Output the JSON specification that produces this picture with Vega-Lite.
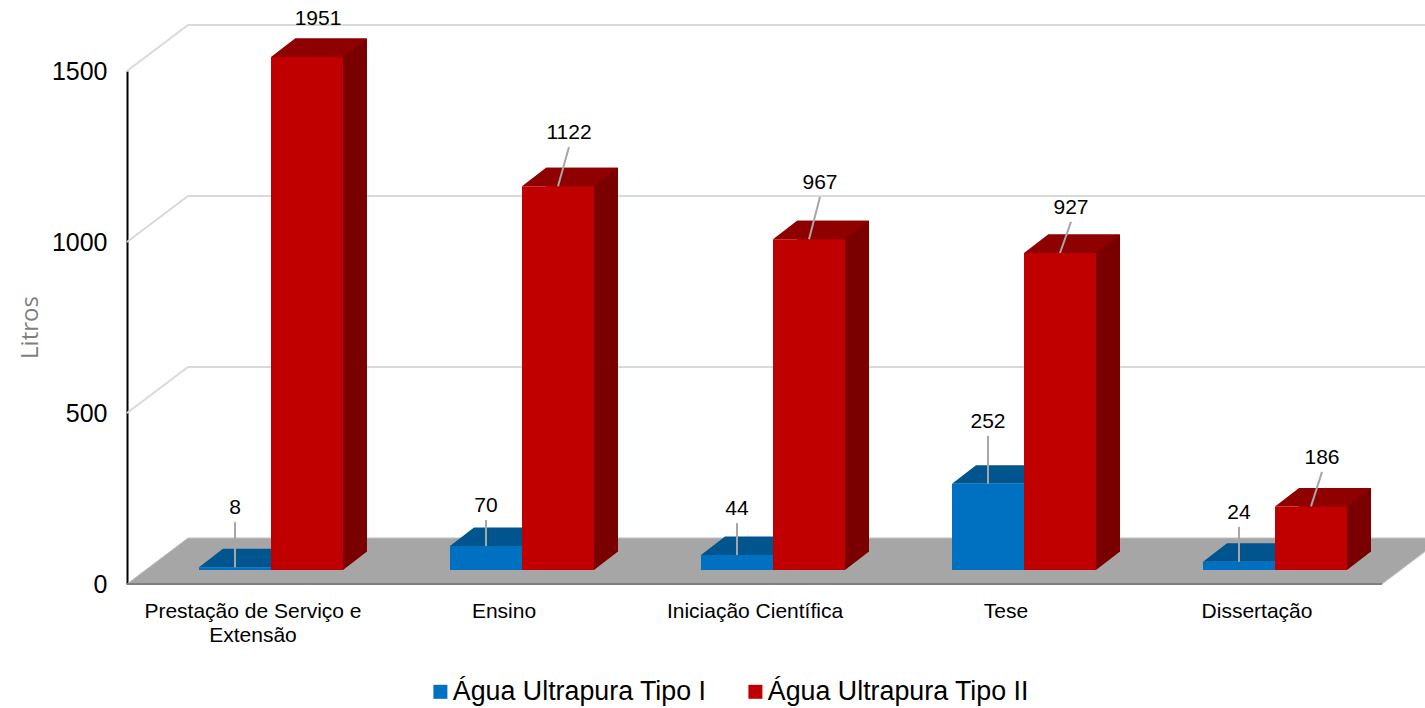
{
"$schema":"https://vega.github.io/schema/vega-lite/v6.json",
"width":1298,"height":513,
"autosize":"none",
"padding":{"left":127,"top":71,"right":0,"bottom":124},
"background":"white",
"config":{"view":{"stroke":null},"font":"Liberation Sans"},
"datasets":{
"barras":[
{"categoria":"Prestação de Serviço e Extensão","serie":"Água Ultrapura Tipo I","valor":8,"topo":8,"rotulo":140},
{"categoria":"Prestação de Serviço e Extensão","serie":"Água Ultrapura Tipo II","valor":1951,"topo":1500,"rotulo":1570},
{"categoria":"Ensino","serie":"Água Ultrapura Tipo I","valor":70,"topo":70,"rotulo":146},
{"categoria":"Ensino","serie":"Água Ultrapura Tipo II","valor":1122,"topo":1122,"rotulo":1237},
{"categoria":"Iniciação Científica","serie":"Água Ultrapura Tipo I","valor":44,"topo":44,"rotulo":137},
{"categoria":"Iniciação Científica","serie":"Água Ultrapura Tipo II","valor":967,"topo":967,"rotulo":1091},
{"categoria":"Tese","serie":"Água Ultrapura Tipo I","valor":252,"topo":252,"rotulo":392},
{"categoria":"Tese","serie":"Água Ultrapura Tipo II","valor":927,"topo":927,"rotulo":1018},
{"categoria":"Dissertação","serie":"Água Ultrapura Tipo I","valor":24,"topo":24,"rotulo":126},
{"categoria":"Dissertação","serie":"Água Ultrapura Tipo II","valor":186,"topo":186,"rotulo":287}
],
"grade":[{"v":0},{"v":500},{"v":1000},{"v":1500}]
},
"data":{"name":"barras"},
"encoding":{
"x":{"field":"categoria","type":"nominal","sort":null,"title":null,
"scale":{"domain":["Prestação de Serviço e Extensão","Ensino","Iniciação Científica","Tese","Dissertação"],"range":[18.5,1273.5],"paddingInner":0.4263,"paddingOuter":0.2131},
"axis":{"domain":false,"ticks":false,"labelAngle":0,"labelFontSize":21,"labelColor":"#000000","labelPadding":16,"labelOffset":-18,"labelLineHeight":24,"labelLimit":400,"labelExpr":"datum.label == 'Prestação de Serviço e Extensão' ? ['Prestação de Serviço e','Extensão'] : datum.label"}},
"xOffset":{"field":"serie","type":"nominal","sort":null,"scale":{"paddingInner":0,"paddingOuter":0}}
},
"layer":[
{"data":{"name":"grade"},"transform":[{"filter":"datum.v == 0"}],
"mark":{"type":"point","shape":"M-649,0 L-588,-46 L667,-46 L606,0 Z","size":4,"filled":true,"fill":"#A6A6A6","opacity":1,"stroke":"#BFBFBF","strokeWidth":1},
"encoding":{"x":null,"xOffset":null,"y":{"field":"v","type":"quantitative"}}},
{"data":{"name":"grade"},"transform":[{"filter":"datum.v == 0"}],
"mark":{"type":"point","shape":"M-649,0 L606,0","size":4,"filled":false,"stroke":"#7F7F7F","strokeWidth":2,"opacity":1},
"encoding":{"x":null,"xOffset":null,"y":{"field":"v","type":"quantitative"}}},
{"data":{"name":"grade"},"transform":[{"filter":"datum.v > 0"}],
"mark":{"type":"point","shape":"M-649,0 L-588,-46 L667,-46","size":4,"filled":false,"stroke":"#D9D9D9","strokeWidth":2,"opacity":1},
"encoding":{"x":null,"xOffset":null,"y":{"field":"v","type":"quantitative"}}},
{"transform":[{"filter":"datum.serie == 'Água Ultrapura Tipo II'"}],
"mark":{"type":"bar","width":72,"xOffset":60,"yOffset":-32.5,"y2Offset":-32.5,"color":"#7A0000"},
"encoding":{"xOffset":null,"y":{"field":"topo","type":"quantitative"},"y2":{"datum":0}}},
{"mark":{"type":"point","shape":"M-36,0 L-12,-18.5 L60,-18.5 L36,0 Z","size":4,"filled":true,"opacity":1,"yOffset":-14},
"encoding":{"y":{"field":"topo","type":"quantitative"},
"color":{"condition":{"test":"datum.serie == 'Água Ultrapura Tipo I'","value":"#00558F"},"value":"#8F0000"}}},
{"transform":[{"filter":"datum.serie == 'Água Ultrapura Tipo II'"}],
"mark":{"type":"point","shape":"M36,0 L60,-18.5 L60,-21 L36,-21 Z","size":4,"filled":true,"opacity":1,"yOffset":-14,"color":"#7A0000"},
"encoding":{"y":{"datum":0}}},
{"mark":{"type":"bar","yOffset":-14,"y2Offset":-14},
"encoding":{"y":{"field":"topo","type":"quantitative","title":"Litros",
"scale":{"domain":[0,1500],"nice":false},
"axis":{"values":[0,500,1000,1500],"format":"d","grid":false,"ticks":false,"domainColor":"#000000","domainWidth":2,"labelFontSize":25,"labelColor":"#000000","labelPadding":20,"titleFont":"Open Sans","titleFontSize":24,"titleFontWeight":"normal","titleColor":"#7F7F7F","titleX":-85,"titleY":256}},
"y2":{"datum":0},
"color":{"field":"serie","type":"nominal","sort":null,
"scale":{"domain":["Água Ultrapura Tipo I","Água Ultrapura Tipo II"],"range":["#0070C0","#C00000"]},
"legend":{"title":null,"orient":"none","legendX":300,"legendY":607,"direction":"horizontal","symbolType":"square","symbolSize":196,"symbolStrokeWidth":0,"labelFontSize":26.8,"labelColor":"#000000","labelOffset":-1,"labelLimit":400,"columnPadding":35}}}},
{"transform":[{"filter":"datum.serie == 'Água Ultrapura Tipo I'"}],
"mark":{"type":"rule","stroke":"#A6A6A6","strokeWidth":2,"yOffset":-14,"y2Offset":-14},
"encoding":{"y":{"field":"topo","type":"quantitative"},"y2":{"field":"rotulo"}}},
{"transform":[{"filter":"datum.serie == 'Água Ultrapura Tipo II' && datum.valor <= 1500"}],
"mark":{"type":"rule","stroke":"#A6A6A6","strokeWidth":2,"yOffset":-14,"y2Offset":-14,"x2Offset":47},
"encoding":{"y":{"field":"topo","type":"quantitative"},"y2":{"field":"rotulo"},"x2":{"field":"categoria"}}},
{"transform":[{"filter":"datum.serie == 'Água Ultrapura Tipo I'"}],
"mark":{"type":"text","fontSize":21,"color":"#000000","yOffset":-28},
"encoding":{"y":{"field":"rotulo","type":"quantitative"},"text":{"field":"valor","type":"quantitative","format":"d"}}},
{"transform":[{"filter":"datum.serie == 'Água Ultrapura Tipo II'"}],
"mark":{"type":"text","fontSize":21,"color":"#000000","yOffset":-28,"dx":11},
"encoding":{"y":{"field":"rotulo","type":"quantitative"},"text":{"field":"valor","type":"quantitative","format":"d"}}}
]
}
